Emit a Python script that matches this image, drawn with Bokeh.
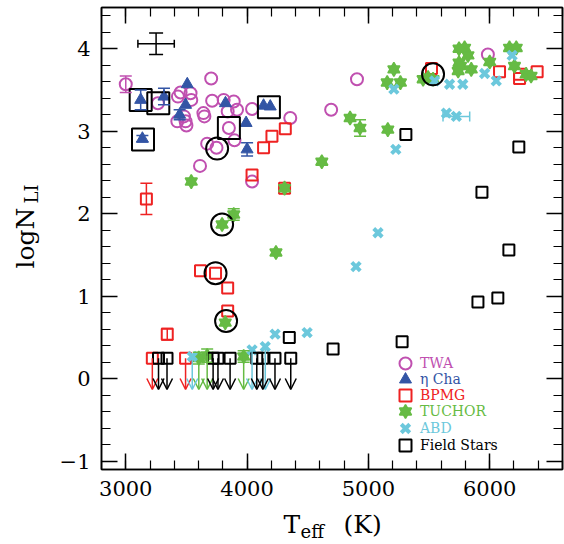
import math
from bokeh.plotting import figure
from bokeh.layouts import row, column
from bokeh.models import (ColumnDataSource, LinearAxis, SingleIntervalTicker, Whisker, TeeHead,
                          Arrow, OpenHead, Legend, LegendItem, CustomJSTickFormatter, Range1d)
from bokeh.core.properties import value
from bokeh.embed import file_html
from bokeh.resources import INLINE

FONT = "DejaVu Serif"

# ---------------- data ----------------
twa_teff = [3000, 3704, 3452, 3534, 3430, 3540, 3265, 3480, 3493, 3425, 3500, 3640, 3648, 3712, 3807,
            3890, 3917, 3840, 3850, 3896, 3671, 3748, 3612, 4041, 4356, 4041, 4906, 4693, 5985]
twa_li = [3.57, 3.64, 3.47, 3.46, 3.42, 3.38, 3.34, 3.18, 3.12, 3.12, 3.07, 3.22, 3.18, 3.37, 3.38,
          3.36, 3.26, 3.24, 3.04, 2.89, 2.85, 2.80, 2.58, 3.27, 3.16, 2.39, 3.63, 3.26, 3.93]
twa_err = [0.10, 0, 0, 0, 0, 0, 0, 0, 0, 0, 0, 0, 0, 0, 0,
           0, 0, 0, 0, 0, 0, 0, 0, 0, 0, 0, 0, 0, 0]

eta_teff = [3123, 3315, 3507, 3493, 3444, 3822, 3992, 4000, 3137, 4136, 4191]
eta_li = [3.38, 3.42, 3.57, 3.32, 3.20, 3.34, 3.10, 2.78, 2.91, 3.31, 3.30]
eta_err = [0.12, 0.10, 0, 0, 0.06, 0, 0, 0.08, 0.04, 0, 0]

bpmg_teff = [4315, 4205, 4136, 4041, 4309, 3170, 3616, 3740, 3840, 3840, 3342, 5520, 6081, 6246, 6246, 6391]
bpmg_li = [3.03, 2.94, 2.80, 2.47, 2.31, 2.18, 1.31, 1.28, 1.10, 0.82, 0.54, 3.76, 3.72, 3.69, 3.64, 3.72]
bpmg_err = [0, 0, 0, 0, 0, 0.19, 0, 0, 0, 0, 0.07, 0, 0, 0, 0, 0]
bpmg_lim_teff = [3219, 3493]
bpmg_lim_li = [0.25, 0.25]

tuc_teff = [3540, 4616, 4309, 3890, 3794, 4238, 3820, 4849, 4931, 5160, 5210, 5155, 5264, 5492, 5533,
            5451, 5793, 5747, 5821, 5747, 5759, 5740, 5848, 6000, 6163, 6219, 6204, 6300, 6341]
tuc_li = [2.39, 2.63, 2.31, 1.99, 1.87, 1.53, 0.68, 3.16, 3.04, 3.02, 3.75, 3.59, 3.59, 3.65, 3.63,
          3.63, 4.01, 4.00, 3.92, 3.83, 3.79, 3.73, 3.75, 3.84, 4.01, 4.01, 3.79, 3.69, 3.67]
tuc_err = [0, 0, 0, 0.07, 0, 0, 0, 0, 0.10, 0, 0, 0, 0, 0, 0,
           0, 0, 0, 0, 0, 0, 0, 0, 0, 0, 0, 0, 0, 0]
tuc_lim_teff = [3602, 3671, 3972]
tuc_lim_li = [0.25, 0.28, 0.27]
tuc_lim_err = [0.07, 0.08, 0.07]

abd_teff = [5210, 5226, 5643, 5725, 5669, 5778, 5546, 5958, 6054, 6185, 4898, 5079, 4231, 4495]
abd_li = [3.51, 2.78, 3.22, 3.18, 3.57, 3.57, 3.61, 3.70, 3.61, 3.92, 1.36, 1.77, 0.54, 0.56]
abd_xerr = [0, 0, 0, 110, 0, 0, 0, 0, 0, 0, 0, 0, 0, 0]
abd_lim_teff = [3548, 4041, 4150]
abd_lim_li = [0.27, 0.35, 0.39]

field_teff = [5309, 6240, 5936, 6158, 6067, 5903, 5278, 4709, 4348]
field_li = [2.96, 2.81, 2.26, 1.56, 0.98, 0.93, 0.45, 0.36, 0.50]
field_lim_teff = [3270, 3340, 3720, 3760, 3860, 4080, 4130, 4230, 4360]
field_lim_li = [0.25, 0.25, 0.25, 0.25, 0.25, 0.25, 0.25, 0.25, 0.25]

box_teff = [3123, 3268, 3142, 3850, 4180]
box_li = [3.38, 3.34, 2.90, 3.04, 3.29]
oct_teff = [3753, 3794, 3740, 3827, 5533]
oct_li = [2.79, 1.87, 1.28, 0.70, 3.69]

typ_teff = [3250]
typ_li = [4.06]
typ_xerr = [150]
typ_yerr = [0.13]

LIMIT_END = -0.13

C_TWA = "#c050b0"
C_ETA = "#3355a5"
C_BPMG = "#ee2222"
C_TUC = "#66bb44"
C_ABD = "#6cc8dc"
C_FLD = "#000000"

W, H = 564, 544
LEFT_W = 56          # strip carrying the y-axis title
BOTTOM_H = 38        # strip carrying the x-axis title
FRAME_L, FRAME_R = 101, 562   # page x of the plot frame edges
BL = FRAME_L - LEFT_W
BR = W - FRAME_R

# ---------------- main figure ----------------
p = figure(width=W - LEFT_W, height=H - BOTTOM_H, x_range=Range1d(2800, 6600), y_range=Range1d(-1.1, 4.5),
           output_backend="svg", toolbar_location=None,
           min_border_left=BL, min_border_right=BR, min_border_top=7, min_border_bottom=37)
p.grid.visible = False
p.outline_line_color = "black"
p.outline_line_width = 1.5
p.background_fill_color = "white"
p.border_fill_color = "white"

blank = CustomJSTickFormatter(code="return '';")

def style_axis(ax, show_labels):
    ax.major_tick_in = 16
    ax.major_tick_out = 0
    ax.minor_tick_in = 9
    ax.minor_tick_out = 0
    ax.axis_line_color = "black"
    ax.axis_line_width = 1.5
    ax.major_tick_line_color = "black"
    ax.major_tick_line_width = 1.5
    ax.minor_tick_line_color = "black"
    ax.minor_tick_line_width = 1.2
    ax.major_label_text_font = FONT
    ax.major_label_text_color = "black"
    ax.major_label_text_font_size = "21px"
    if show_labels:
        ax.major_label_standoff = 11
    else:
        ax.formatter = blank
        ax.major_label_standoff = 0

p.xaxis.ticker = SingleIntervalTicker(interval=1000, num_minor_ticks=5)
p.yaxis.ticker = SingleIntervalTicker(interval=1, num_minor_ticks=5)
p.yaxis.formatter = CustomJSTickFormatter(code="return (tick < 0) ? '\u2212' + (-tick) : '' + tick;")
style_axis(p.xaxis[0], True)
style_axis(p.yaxis[0], True)

top = LinearAxis(ticker=SingleIntervalTicker(interval=1000, num_minor_ticks=5))
right = LinearAxis(ticker=SingleIntervalTicker(interval=1, num_minor_ticks=5))
style_axis(top, False)
style_axis(right, False)
p.add_layout(top, "above")
p.add_layout(right, "right")

# ---------------- error bars / limits ----------------
def yerr_whisker(xs, ys, es, color, size=12):
    sel = [(x, y, e) for x, y, e in zip(xs, ys, es) if e > 0]
    if not sel:
        return
    src = ColumnDataSource(dict(x=[s[0] for s in sel], lo=[s[1] - s[2] for s in sel],
                                hi=[s[1] + s[2] for s in sel]))
    p.add_layout(Whisker(base="x", lower="lo", upper="hi", source=src, dimension="height",
                         line_color=color, line_width=1.5,
                         lower_head=TeeHead(size=size, line_color=color, line_width=1.5),
                         upper_head=TeeHead(size=size, line_color=color, line_width=1.5), level="glyph"))

def xerr_whisker(xs, ys, es, color, size=10):
    sel = [(x, y, e) for x, y, e in zip(xs, ys, es) if e > 0]
    if not sel:
        return
    src = ColumnDataSource(dict(y=[s[1] for s in sel], lo=[s[0] - s[2] for s in sel],
                                hi=[s[0] + s[2] for s in sel]))
    p.add_layout(Whisker(base="y", lower="lo", upper="hi", source=src, dimension="width",
                         line_color=color, line_width=1.5,
                         lower_head=TeeHead(size=size, line_color=color, line_width=1.5),
                         upper_head=TeeHead(size=size, line_color=color, line_width=1.5), level="glyph"))

def limit_arrows(xs, ys, color):
    src = ColumnDataSource(dict(x=xs, y=ys, ye=[LIMIT_END] * len(xs)))
    p.add_layout(Arrow(x_start="x", y_start="y", x_end="x", y_end="ye", source=src,
                       line_color=color, line_width=1.5,
                       end=OpenHead(size=11, line_color=color, line_width=1.5)))

yerr_whisker(twa_teff, twa_li, twa_err, C_TWA)
yerr_whisker(eta_teff, eta_li, eta_err, C_ETA)
yerr_whisker(bpmg_teff, bpmg_li, bpmg_err, C_BPMG)
yerr_whisker(tuc_teff, tuc_li, tuc_err, C_TUC)
yerr_whisker(tuc_lim_teff, tuc_lim_li, tuc_lim_err, C_TUC)
xerr_whisker(abd_teff, abd_li, abd_xerr, C_ABD)

limit_arrows(bpmg_lim_teff, bpmg_lim_li, C_BPMG)
limit_arrows(tuc_lim_teff, tuc_lim_li, C_TUC)
limit_arrows(abd_lim_teff, abd_lim_li, C_ABD)
limit_arrows(field_lim_teff, field_lim_li, C_FLD)

yerr_whisker(typ_teff, typ_li, typ_yerr, "black", size=14)
xerr_whisker(typ_teff, typ_li, typ_xerr, "black", size=8)

# ---------------- markers ----------------
r_twa = p.scatter(twa_teff, twa_li, marker="circle", size=12, fill_color=None,
                  line_color=C_TWA, line_width=2)
r_eta = p.scatter(eta_teff, eta_li, marker="triangle", size=12, fill_color=C_ETA,
                  line_color=C_ETA, line_width=1)
r_bpmg = p.scatter(bpmg_teff + bpmg_lim_teff, bpmg_li + bpmg_lim_li, marker="square", size=11,
                   fill_color=None, line_color=C_BPMG, line_width=2)
r_tuc1 = p.scatter(tuc_teff + tuc_lim_teff, tuc_li + tuc_lim_li, marker="triangle", size=12,
                   fill_color=C_TUC, line_color=C_TUC, line_width=1.5)
r_tuc2 = p.scatter(tuc_teff + tuc_lim_teff, tuc_li + tuc_lim_li, marker="inverted_triangle", size=12,
                   fill_color=C_TUC, line_color=C_TUC, line_width=1.5)
r_abd = p.scatter(abd_teff + abd_lim_teff, abd_li + abd_lim_li, marker="x", size=12,
                  line_color=C_ABD, line_width=4)
r_fld = p.scatter(field_teff + field_lim_teff, field_li + field_lim_li, marker="square", size=11,
                  fill_color=None, line_color=C_FLD, line_width=2)

p.scatter(box_teff, box_li, marker="square", size=22, fill_color=None, line_color="black", line_width=2)
p.scatter(oct_teff, oct_li, marker="circle", size=22, fill_color=None, line_color="black", line_width=2)

# ---------------- legend (one per entry so each label keeps its colour) ----------------
entries = [("TWA", [r_twa], C_TWA), ("\u03b7 Cha", [r_eta], C_ETA), ("BPMG", [r_bpmg], C_BPMG),
           ("TUCHOR", [r_tuc1, r_tuc2], C_TUC), ("ABD", [r_abd], C_ABD),
           ("Field Stars", [r_fld], C_FLD)]
leg_y = [91, 75, 59, 43, 26, 9]
for (lab_txt, rs, col), ly in zip(entries, leg_y):
    p.add_layout(Legend(items=[LegendItem(label=lab_txt, renderers=rs)], location=(289, ly),
                        label_text_color=col, label_text_font=FONT, label_text_font_size="14px",
                        glyph_width=30, glyph_height=30, label_height=30, label_standoff=0,
                        padding=0, margin=0, spacing=0, border_line_color=None,
                        background_fill_alpha=0))

# ---------------- axis-title strips (coordinates = page pixels) ----------------
def strip(width, height, xr, yr, bl=0, br=0):
    f = figure(width=width, height=height, x_range=Range1d(*xr), y_range=Range1d(*yr),
               output_backend="svg", toolbar_location=None, x_axis_type=None, y_axis_type=None,
               min_border=0, min_border_left=bl, min_border_right=br, min_border_top=0,
               min_border_bottom=0)
    f.outline_line_color = None
    f.grid.visible = False
    f.background_fill_color = "white"
    f.border_fill_color = "white"
    return f

ylab = strip(LEFT_W, H, (0, LEFT_W), (0, H))
ylab.text(x=[25], y=[H - 268], text=["logN"], angle=math.pi / 2, text_font=value(FONT),
          text_font_size="25px", text_baseline="alphabetic", text_align="left", text_color="black")
ylab.text(x=[31], y=[H - 203], text=["LI"], angle=math.pi / 2, text_font=value(FONT),
          text_font_size="18px", text_baseline="alphabetic", text_align="left", text_color="black")

# the x-title strip shares the main plot's left/right borders, so its frame spans the page x FRAME_L..FRAME_R
xlab = strip(W - LEFT_W, BOTTOM_H, (FRAME_L, FRAME_R), (0, BOTTOM_H), bl=BL, br=BR)
xlab.text(x=[283], y=[H - 524], text=["T"], text_font=value(FONT), text_font_size="25px",
          text_baseline="alphabetic", text_align="left", text_color="black")
xlab.text(x=[300], y=[H - 531], text=["eff"], text_font=value(FONT), text_font_size="18px",
          text_baseline="alphabetic", text_align="left", text_color="black")
xlab.text(x=[343], y=[H - 524], text=["(K)"], text_font=value(FONT), text_font_size="25px",
          text_baseline="alphabetic", text_align="left", text_color="black")

layout = row(ylab, column(p, xlab, spacing=0), spacing=0)
open("out.html", "w").write(file_html(layout, INLINE))
